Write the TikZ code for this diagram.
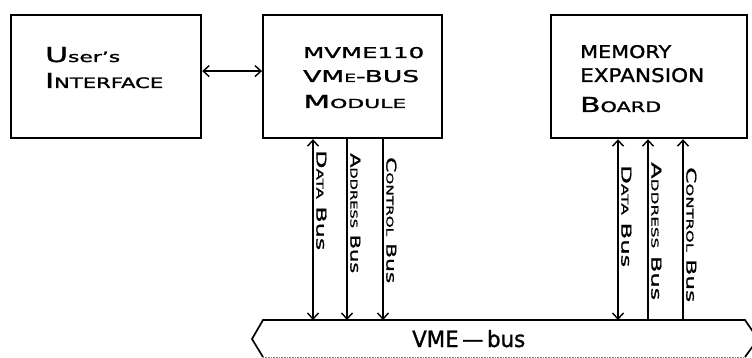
\documentclass[tikz,border=0pt]{standalone}
\usepackage{fontspec}
\setmainfont[FakeBold=1.2]{DejaVu Sans}
\usetikzlibrary{arrows.meta}
\newcommand\lo[1]{{\fontsize{7}{8}\selectfont #1}}
\begin{document}
\begin{tikzpicture}[x=1pt,y=-1pt,
  box/.style={draw, line width=2.2pt, anchor=north west, inner sep=0pt, minimum height=123pt},
  wire/.style={line width=1.7pt},
  barb/.tip={Straight Barb[length=6pt,width=11pt,line width=1.4pt]},
  txt/.style={anchor=base west, inner sep=0pt},
  vlab/.style={rotate=-90, anchor=south west, inner sep=0pt}]
\useasboundingbox (0,0) rectangle (752,358);
\clip (0,0) rectangle (752,358);
% boxes
\node[box, minimum width=190pt] (ui) at (10,14) {};
\node[box, minimum width=179pt] (mv) at (262,14) {};
\node[box, minimum width=196pt] (mem) at (550,14) {};
% box texts
\node[txt] (t1) at (45,62) {\resizebox{75pt}{15pt}{U\lo{ser's}}};
\node[txt] (t2) at (45,88) {\resizebox{118pt}{15pt}{I\lo{NTERFACE}}};
\node[txt] (t3) at (303,58) {\resizebox{121pt}{11pt}{MVME110}};
\node[txt] (t4) at (303,82) {\resizebox{116pt}{12pt}{VM\lo{E}-BUS}};
\node[txt] (t5) at (303,108) {\resizebox{103pt}{13pt}{M\lo{ODULE}}};
\node[txt] (t6) at (580,58) {\resizebox{91pt}{13pt}{MEMORY}};
\node[txt] (t7) at (580,82) {\resizebox{124pt}{14pt}{EXPANSION}};
\node[txt] (t8) at (580,112) {\resizebox{81pt}{15pt}{B\lo{OARD}}};
% link between user interface and module
\draw[wire, barb-barb] ([yshift=5.5pt]ui.east) -- ([yshift=5.5pt]mv.west);
% VME bus
\coordinate (bl) at (252,339);
\coordinate (btl) at (263,320);
\coordinate (btr) at (745,320);
\coordinate (br) at (758,339);
\coordinate (bbl) at (263,357);
\coordinate (bbr) at (745,357);
\draw[wire] (bbl) -- (bl) -- (btl) -- (btr) -- (br) -- (bbr);
\draw[densely dotted, gray, line width=0.6pt] (bbl) -- (bbr);
\node[txt] (vb) at (412,347) {\resizebox{113pt}{17pt}{VME\,—\,bus}};
% bus taps
\coordinate (m1) at (313,320);
\coordinate (m2) at (347,320);
\coordinate (m3) at (383,320);
\coordinate (e1) at (618,320);
\coordinate (e2) at (648,320);
\coordinate (e3) at (683,320);
\draw[wire, barb-barb] (m1 |- mv.south) -- (m1);
\draw[wire, -barb] (m2 |- mv.south) -- (m2);
\draw[wire, -barb] (m3 |- mv.south) -- (m3);
\draw[wire, barb-barb] (e1 |- mem.south) -- (e1);
\draw[wire, barb-] (e2 |- mem.south) -- (e2);
\draw[wire, barb-] (e3 |- mem.south) -- (e3);
% bus labels
\node[vlab] (l1) at (316,150) {\resizebox{100pt}{10pt}{D\lo{ATA} Bus}};
\node[vlab] (l2) at (350,153) {\resizebox{120pt}{10pt}{A\lo{DDRESS} Bus}};
\node[vlab] (l3) at (386,157) {\resizebox{126pt}{10pt}{C\lo{ONTROL} Bus}};
\node[vlab] (l4) at (621,165) {\resizebox{102pt}{10pt}{D\lo{ATA} Bus}};
\node[vlab] (l5) at (651,162) {\resizebox{138pt}{10pt}{A\lo{DDRESS} Bus}};
\node[vlab] (l6) at (686,167) {\resizebox{135pt}{10pt}{C\lo{ONTROL} Bus}};
\end{tikzpicture}
\end{document}
